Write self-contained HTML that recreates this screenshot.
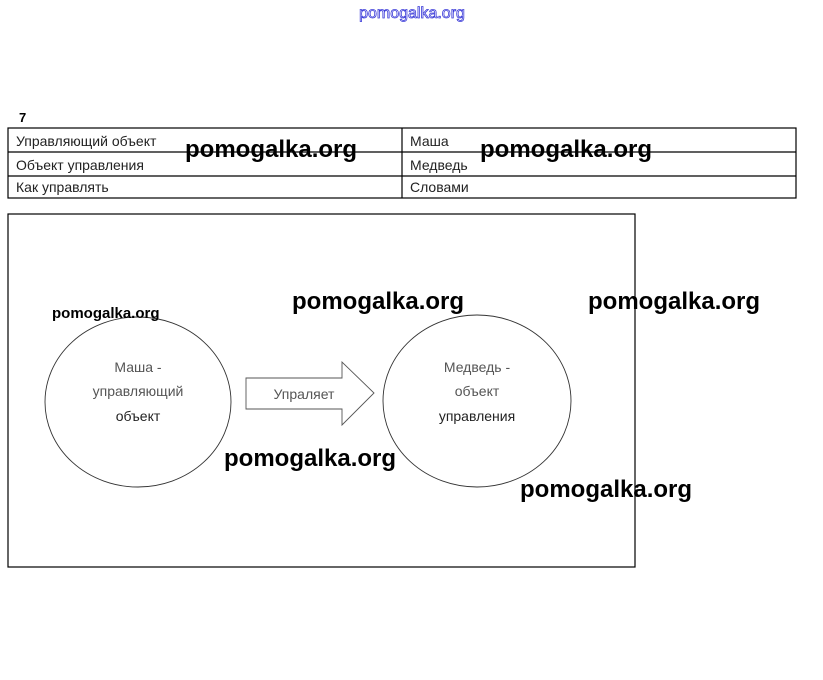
<!DOCTYPE html>
<html><head><meta charset="utf-8"><style>
html,body{margin:0;padding:0;background:#fff;}
svg{display:block;}
</style></head><body>
<svg width="823" height="680" viewBox="0 0 823 680" xmlns="http://www.w3.org/2000/svg" font-family="Liberation Sans, sans-serif">
<rect width="823" height="680" fill="#fff"/>
<text x="412" y="18" text-anchor="middle" font-size="16" fill="#fff" stroke="#3a3ad8" stroke-width="0.8">pomogalka.org</text>
<text x="19" y="122" font-size="13" font-weight="bold">7</text>
<g stroke="#000" stroke-width="1.2" fill="none">
<rect x="8" y="128" width="788" height="70"/>
<line x1="8" y1="152" x2="796" y2="152"/>
<line x1="8" y1="176" x2="796" y2="176"/>
<line x1="402" y1="128" x2="402" y2="198"/>
<rect x="8" y="214" width="627" height="353"/>
<ellipse cx="138" cy="402" rx="93" ry="85" stroke-width="0.9" stroke="#333"/>
<ellipse cx="477" cy="401" rx="94" ry="86" stroke-width="0.9" stroke="#333"/>
<polygon points="246,378 342,378 342,362 374,393 342,425 342,409 246,409" stroke="#555" stroke-width="0.9"/>
</g>
<g font-size="14" fill="#222">
<text x="16" y="146">Управляющий объект</text>
<text x="16" y="170">Объект управления</text>
<text x="16" y="192">Как управлять</text>
<text x="410" y="146">Маша</text>
<text x="410" y="170">Медведь</text>
<text x="410" y="192">Словами</text>
</g>
<g font-size="14" fill="#555" text-anchor="middle">
<text x="138" y="372">Маша -</text>
<text x="138" y="396">управляющий</text>
<text x="138" y="421" fill="#222">объект</text>
<text x="477" y="372">Медведь -</text>
<text x="477" y="396">объект</text>
<text x="477" y="421" fill="#222">управления</text>
<text x="304" y="399">Упраляет</text>
</g>
<g font-weight="bold" fill="#000">
<text x="185" y="157" font-size="24">pomogalka.org</text>
<text x="480" y="157" font-size="24">pomogalka.org</text>
<text x="52" y="318" font-size="15">pomogalka.org</text>
<text x="292" y="309" font-size="24">pomogalka.org</text>
<text x="588" y="309" font-size="24">pomogalka.org</text>
<text x="224" y="466" font-size="24">pomogalka.org</text>
<text x="520" y="497" font-size="24">pomogalka.org</text>
</g>
</svg>
</body></html>
